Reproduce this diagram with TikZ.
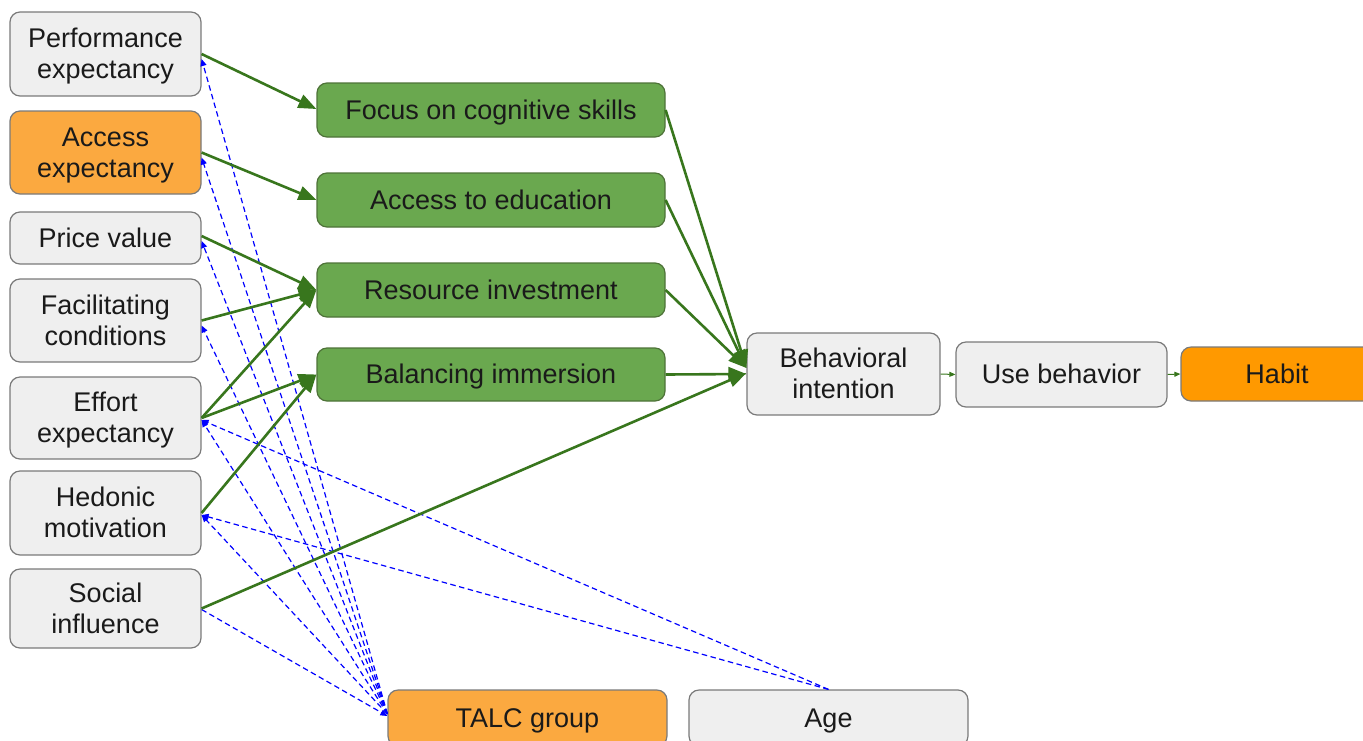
\documentclass[tikz,border=0pt]{standalone}
\usepackage{fontspec}
\setmainfont{Liberation Sans}
\usetikzlibrary{arrows.meta}
\definecolor{boxgray}{HTML}{EFEFEF}
\definecolor{bordergray}{HTML}{7A7A7A}
\definecolor{lorange}{HTML}{FBA940}
\definecolor{horange}{HTML}{FF9900}
\definecolor{gfill}{HTML}{6AA84F}
\definecolor{gborder}{HTML}{4E7338}
\definecolor{garr}{HTML}{38761D}
\definecolor{txt}{HTML}{1A1A1A}
\begin{document}
\begin{tikzpicture}[x=1pt,y=-1pt,
  box/.style={draw=bordergray, line width=1.2pt, rounded corners=10pt, align=center,
    font=\fontsize{27}{31}\selectfont, text=txt, inner sep=0pt},
  oneline/.style={text height=24.5pt, text depth=5.7pt},
  twoline/.style={text height=55.5pt, text depth=5.7pt},
  graybox/.style={box, fill=boxgray},
  orangebox/.style={box, fill=lorange},
  habitbox/.style={box, fill=horange},
  greenbox/.style={box, oneline, fill=gfill, draw=gborder, minimum width=348pt, minimum height=54pt},
  leftbox/.style={minimum width=191pt},
  garrow/.style={draw=garr, line width=2.6pt, -{Triangle[length=18pt,width=14pt]}},
  smallarrow/.style={draw=garr, line width=1pt, -{Triangle[length=6pt,width=5pt]}},
  barrow/.style={draw=blue, line width=1.2pt, dash pattern=on 5.5pt off 3.5pt, -{Triangle[length=7pt,width=6pt]}},
]
\useasboundingbox (0,0) rectangle (1363,740);
\clip (0,0) rectangle (1363,740);

% left column
\node[graybox, leftbox, twoline, minimum height=84pt] (pe) at (105.5,54) {Performance\\expectancy};
\node[orangebox, leftbox, twoline, minimum height=83pt] (ae) at (105.5,152.5) {Access\\expectancy};
\node[graybox, leftbox, oneline, minimum height=52pt] (pv) at (105.5,238) {Price value};
\node[graybox, leftbox, twoline, minimum height=83pt] (fc) at (105.5,320.5) {Facilitating\\conditions};
\node[graybox, leftbox, twoline, minimum height=82pt] (ee) at (105.5,418) {Effort\\expectancy};
\node[graybox, leftbox, twoline, minimum height=84pt] (hm) at (105.5,513) {Hedonic\\motivation};
\node[graybox, leftbox, twoline, minimum height=79pt] (si) at (105.5,608.5) {Social\\influence};

% middle column
\node[greenbox] (fcs) at (491,110) {Focus on cognitive skills};
\node[greenbox] (ate) at (491,200) {Access to education};
\node[greenbox] (ri) at (491,290) {Resource investment};
\node[greenbox, minimum height=53pt] (bim) at (491,374.5) {Balancing immersion};

% right
\node[graybox, twoline, minimum width=193pt, minimum height=82pt] (bi) at (843.5,374) {Behavioral\\intention};
\node[graybox, oneline, minimum width=211pt, minimum height=65pt] (ub) at (1061.5,374.5) {Use behavior};
\node[habitbox, oneline, minimum width=192pt, minimum height=54pt] (hab) at (1277,374) {Habit};

% bottom
\node[orangebox, oneline, minimum width=279pt, minimum height=56pt] (talc) at (527.5,718) {TALC group};
\node[graybox, oneline, minimum width=279pt, minimum height=56pt] (age) at (828.5,718) {Age};

% blue dashed moderators
\draw[barrow] ([yshift=4pt]talc.west) -- ([yshift=-5pt]pe.east);
\draw[barrow] ([yshift=4pt]talc.west) -- ([yshift=-5pt]ae.east);
\draw[barrow] ([yshift=4pt]talc.west) -- ([yshift=-3pt]pv.east);
\draw[barrow] ([yshift=4pt]talc.west) -- ([yshift=-5pt]fc.east);
\draw[barrow] ([yshift=4pt]talc.west) -- ([yshift=-2pt]ee.east);
\draw[barrow] ([yshift=4pt]talc.west) -- ([yshift=-2pt]hm.east);
\draw[barrow] ([yshift=-1pt]si.east) -- ([yshift=2pt]talc.west);
\draw[barrow] (age.north) -- ([yshift=-2pt]ee.east);
\draw[barrow] (age.north) -- ([yshift=-2pt]hm.east);

% green arrows
\draw[garrow] (pe.east) -- ([yshift=1pt]fcs.west);
\draw[garrow] (ae.east) -- (ate.west);
\draw[garrow] ([yshift=2pt]pv.east) -- (ri.west);
\draw[garrow] (fc.east) -- (ri.west);
\draw[garrow] (ee.east) -- (ri.west);
\draw[garrow] (ee.east) -- (bim.west);
\draw[garrow] (hm.east) -- (bim.west);
\draw[garrow] (fcs.east) -- ([yshift=6pt]bi.west);
\draw[garrow] (ate.east) -- ([yshift=6pt]bi.west);
\draw[garrow] (ri.east) -- ([yshift=6pt]bi.west);
\draw[garrow] (bim.east) -- (bi.west);
\draw[garrow] (si.east) -- ([yshift=1pt]bi.west);
\draw[smallarrow] (bi.east) -- (ub.west);
\draw[smallarrow] (ub.east) -- (hab.west);
\end{tikzpicture}
\end{document}
